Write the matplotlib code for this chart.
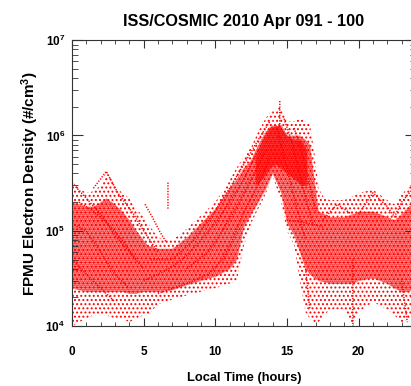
import numpy as np
import matplotlib
matplotlib.use('Agg')
import matplotlib.pyplot as plt
from matplotlib.ticker import MultipleLocator, LogLocator, NullFormatter

plt.rcParams['font.family'] = ['Liberation Sans', 'DejaVu Sans']
plt.rcParams['font.weight'] = 'bold'
plt.rcParams['axes.titleweight'] = 'bold'
plt.rcParams['axes.labelweight'] = 'bold'
plt.rcParams['mathtext.fontset'] = 'custom'
plt.rcParams['mathtext.bf'] = 'Liberation Sans:bold'
plt.rcParams['mathtext.rm'] = 'Liberation Sans:bold'
plt.rcParams['mathtext.default'] = 'bf'
plt.rcParams['hatch.linewidth'] = 0.9

nan = np.nan
RED = '#ff0000'

# point cloud envelopes, midnight -> noon part (local time h, density #/cm3)
am_lt = [0, 0.5, 1, 1.5, 2, 2.4, 3, 3.5, 4, 4.5, 5, 5.3, 6, 7, 8, 9, 10, 11, 11.5, 12, 12.5, 13, 13.5, 14]
am_hi = [3.3e5, 2.8e5, 2.5e5, 2.6e5, 3.0e5, 4.2e5, 3.0e5, 2.5e5, 2.2e5, 1.7e5, 1.4e5, 1.2e5, 8.5e4, 8e4,
         1.05e5, 1.45e5, 2.0e5, 3.4e5, 4.6e5, 6.0e5, 7.5e5, 1.1e6, 1.5e6, 1.9e6]
am_lo = [1.0e4, 1.1e4, 1.2e4, 1.3e4, 1.3e4, 1.3e4, 1.2e4, 1.2e4, 1.1e4, 1.2e4, 1.3e4, 1.3e4, 1.7e4, 1.9e4,
         2.1e4, 2.3e4, 2.5e4, 2.8e4, 3.0e4, 7e4, 1.2e5, 1.7e5, 2.4e5, 3.8e5]
am_core_hi = [2.0e5, 1.9e5, 1.8e5, 1.8e5, 2.0e5, 2.2e5, 1.9e5, 1.6e5, 1.3e5, 1.0e5, 8e4, 7e4, 6.5e4, 6.5e4,
              8.5e4, 1.2e5, 1.7e5, 2.8e5, 3.5e5, 4.6e5, 5.5e5, 8e5, 1.1e6, 1.3e6]
am_core_lo = [2.5e4, 2.4e4, 2.3e4, 2.3e4, 2.3e4, 2.3e4, 2.3e4, 2.3e4, 2.2e4, 2.2e4, 2.3e4, 2.3e4, 2.3e4, 2.4e4,
              2.7e4, 3.0e4, 3.3e4, 4.0e4, 5.0e4, 1.1e5, 1.5e5, 2.0e5, 2.7e5, 4.0e5]

# afternoon -> midnight part
pm_lt = [14.0, 14.6, 15, 15.5, 15.9, 16.3, 16.6, 16.9, 17.2, 17.6, 18, 19, 19.6, 20, 21, 22, 22.5, 23, 23.5, 24]
pm_hi = [1.8e6, 2.0e6, 1.4e6, 1.4e6, 1.5e6, 1.4e6, 1.3e6, 7e5, 2.8e5, 2.2e5, 2.1e5, 2.1e5, 2.3e5, 2.5e5,
         2.7e5, 2.1e5, 1.9e5, 2.4e5, 2.9e5, 3.2e5]
pm_lo = [3.8e5, 2.0e5, 1.0e5, 7e4, 3e4, 1.4e4, 1.2e4, 1.1e4, 1.1e4, 1.3e4, 1.5e4, 1.5e4, 1.0e4, 1.4e4,
         1.8e4, 1.5e4, 1.3e4, 1.1e4, 1.2e4, 1.3e4]
pm_core_hi = [1.2e6, 1.3e6, 1.0e6, 1.0e6, 1.0e6, 9e5, 8e5, 3.5e5, 1.6e5, 1.5e5, 1.4e5, 1.4e5, 1.5e5, 1.6e5,
              1.6e5, 1.4e5, 1.3e5, 1.5e5, 1.8e5, 2.0e5]
pm_core_lo = [4.0e5, 2.5e5, 1.2e5, 9e4, 6e4, 4e4, 3.5e4, 3.2e4, 3e4, 2.9e4, 2.8e4, 2.8e4, 2.8e4, 3.0e4,
              3.2e4, 2.8e4, 2.5e4, 2.3e4, 2.3e4, 2.5e4]

# densest part around the afternoon maximum
peak_lt = [12.8, 13.3, 13.8, 14.2, 14.6, 15, 15.5, 16, 16.4]
peak_hi = [6e5, 9e5, 1.2e6, 1.3e6, 1.2e6, 1.0e6, 9e5, 9e5, 7e5]
peak_lo = [3e5, 3.5e5, 4.5e5, 5e5, 4.5e5, 4e5, 3.5e5, 3e5, 3e5]

# individual orbit passes (nan separates passes)
night_lt = [0, 1, 2, 3, 4, 5, nan, 0, 1, 2, 3, 4, nan, 1.5, 2.4, 3.2, 4.3, 5, 6, nan,
            0, 1, 2, 3, nan, 0.5, 1.5, 2.5, 3.5, 4.5, nan, 5.1, 5.6, 6.1, 6.6, nan, 6.7, 6.7]
night_ne = [3.2e5, 2.2e5, 1.5e5, 9e4, 6e4, 4e4, nan, 1.2e5, 1e5, 6e4, 3.5e4, 2.5e4, nan,
            2.8e5, 4.2e5, 2.5e5, 1.5e5, 1e5, 6e4, nan, 5e4, 3.5e4, 2.5e4, 1.8e4, nan,
            2e5, 1.6e5, 1.2e5, 8e4, 5e4, nan, 1.9e5, 1.4e5, 1e5, 7.5e4, nan, 3.2e5, 1.7e5]
morning_lt = [5, 6, 7, 8, 9, 10, 11, 12, 13, nan, 5.5, 7, 8.5, 10, 11, 12, 13, 13.8, nan,
              6, 8, 9.5, 10.5, 11.2, 12, 13, 13.8, nan, 8, 9.5, 10.5, 11.5, 12.5, 13.5]
morning_ne = [3e4, 3.5e4, 4.2e4, 5.5e4, 8e4, 1.2e5, 2e5, 3.5e5, 7e5, nan,
              5e4, 5e4, 8e4, 1.6e5, 2.8e5, 5e5, 9e5, 1.4e6, nan,
              2.2e4, 2.8e4, 3.5e4, 5e4, 8e4, 1.6e5, 3e5, 6e5, nan,
              4e4, 6e4, 1e5, 1.8e5, 3.5e5, 7e5]
after_lt = [14.3, 14.8, 15.3, 15.8, 16.3, nan, 14.8, 15.3, 15.8, 16.3, 16.8, nan,
            15.5, 16, 16.5, 17, nan, 14.5, 14.5]
after_ne = [1.2e6, 6e5, 3e5, 1.5e5, 8e4, nan, 1.5e6, 9e5, 4.5e5, 2.2e5, 1.2e5, nan,
            1.2e6, 7e5, 3.5e5, 1.6e5, nan, 2.3e6, 1.2e6]
evening_lt = [15, 15.8, 16.5, 17.5, nan, 17.5, 18.5, 19.5, nan, 20, 21, 22, 22.5, 23, 24, nan,
              16.3, 16.6, nan, 19.6, 19.6, nan, 23, 23.4]
evening_ne = [1.3e5, 1.25e5, 1.2e5, 1.1e5, nan, 1.3e5, 1.9e5, 1.5e5, nan,
              1.5e5, 2.5e5, 1.8e5, 1.4e5, 2e5, 3e5, nan, 4e4, 1.5e4, nan, 5e4, 1e4, nan, 3e4, 1.1e4]

fig = plt.figure(figsize=(4.11, 3.86), dpi=100)
ax = fig.add_axes([0.175, 0.155, 0.837, 0.741])

# sparse outer scatter and dense core, both drawn as red stipple
for lt, lo, hi in [(am_lt, am_lo, am_hi), (pm_lt, pm_lo, pm_hi)]:
    ax.fill_between(lt, lo, hi, facecolor='none', edgecolor=RED, hatch='....', linewidth=0)
for lt, lo, hi, a in [(am_lt, am_core_lo, am_core_hi, 0.3), (pm_lt, pm_core_lo, pm_core_hi, 0.3),
                      (peak_lt, peak_lo, peak_hi, 0.45)]:
    ax.fill_between(lt, lo, hi, color=RED, alpha=a, linewidth=0)
    ax.fill_between(lt, lo, hi, facecolor='none', edgecolor=RED, hatch='........', linewidth=0)

for lt, ne in [(night_lt, night_ne), (morning_lt, morning_ne), (after_lt, after_ne), (evening_lt, evening_ne)]:
    ax.plot(lt, ne, color=RED, lw=1.1, ls=(0, (0.8, 1.0)))

ax.set_yscale('log')
ax.set_xlim(0, 24)
ax.set_ylim(1e4, 1e7)
ax.xaxis.set_major_locator(MultipleLocator(5))
ax.xaxis.set_minor_locator(MultipleLocator(1))
ax.yaxis.set_major_locator(LogLocator(base=10))
ax.yaxis.set_minor_locator(LogLocator(base=10, subs=np.arange(2, 10)))
ax.yaxis.set_minor_formatter(NullFormatter())
ax.tick_params(which='both', direction='in', top=True, right=True, labelsize=8.5, color='#333333')
ax.tick_params(axis='x', which='major', length=6, pad=14)
ax.tick_params(axis='x', which='minor', length=3)
ax.tick_params(axis='y', which='major', length=8, pad=5)
ax.tick_params(axis='y', which='minor', length=4)
for s in ax.spines.values():
    s.set_linewidth(0.8)
    s.set_color('#333333')

ax.set_title('ISS/COSMIC 2010 Apr 091 - 100', fontsize=11.7, pad=10)
ax.set_xlabel('Local Time (hours)', fontsize=9.3, labelpad=10)
ax.set_ylabel('FPMU Electron Density (#/cm$^3$)', fontsize=11, labelpad=3)

fig.savefig('out.png', dpi=100)
